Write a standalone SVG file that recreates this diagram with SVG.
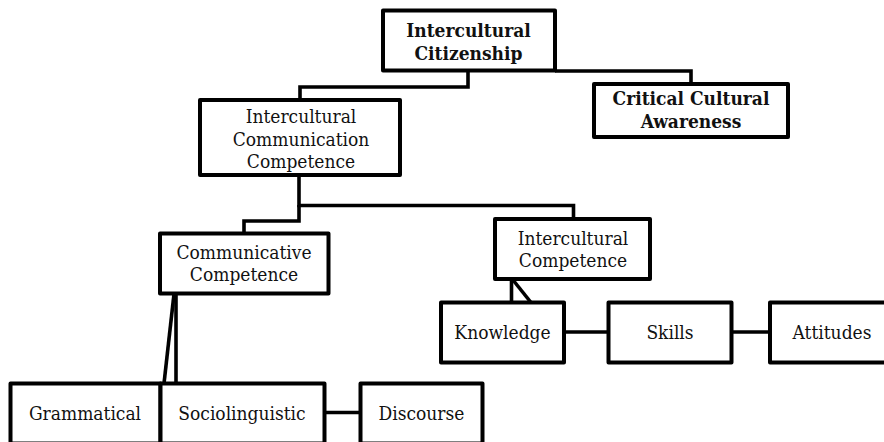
<svg xmlns="http://www.w3.org/2000/svg" width="884" height="442" viewBox="0 0 884 442">
<style>
.box{fill:#fff;stroke:#000;stroke-width:4;stroke-linejoin:round}
.con{fill:none;stroke:#000;stroke-width:3.6;stroke-linejoin:miter}
text{font-family:"DejaVu Serif Condensed","DejaVu Serif","Liberation Serif",serif;font-stretch:condensed;font-size:19px;fill:#111;text-anchor:middle}
.b{font-weight:bold}
</style>
<rect width="884" height="442" fill="#fff"/>
<g id="connectors">
<path class="con" d="M555,71 H691 V84"/>
<path class="con" d="M468,71 V87 H300 V100"/>
<path class="con" d="M299,175 V205.5 H573.5 V219"/>
<path class="con" d="M299,205 V221 H244 V233.5"/>
<path class="con" d="M511.5,279 V302.5"/>
<path class="con" d="M513,280 L531,302.5"/>
<path class="con" d="M564,332 H608.5"/>
<path class="con" d="M731.5,332 H770"/>
<path class="con" d="M176,294 V383.5"/>
<path class="con" d="M174,294 L164,383.5"/>
<path class="con" d="M324.5,412.5 H360.5"/>
</g>
<g id="intercultural-citizenship">
<rect class="box" x="383" y="10.5" width="172" height="60"/>
<text class="b" x="468.5" y="37">Intercultural</text>
<text class="b" x="468.5" y="60">Citizenship</text>
</g>
<g id="critical-cultural-awareness">
<rect class="box" x="594" y="84" width="194" height="53"/>
<text class="b" x="691" y="105">Critical Cultural</text>
<text class="b" x="691" y="127.5">Awareness</text>
</g>
<g id="icc">
<rect class="box" x="200" y="100" width="200" height="75"/>
<text x="301" y="123">Intercultural</text>
<text x="301" y="145.5">Communication</text>
<text x="301" y="167.5">Competence</text>
</g>
<g id="communicative-competence">
<rect class="box" x="160" y="233.5" width="168.5" height="60"/>
<text x="244" y="259">Communicative</text>
<text x="244" y="281">Competence</text>
</g>
<g id="intercultural-competence">
<rect class="box" x="495" y="219" width="155" height="60"/>
<text x="573" y="245">Intercultural</text>
<text x="573" y="267">Competence</text>
</g>
<g id="knowledge">
<rect class="box" x="441" y="302.5" width="123" height="60"/>
<text x="502.5" y="339">Knowledge</text>
</g>
<g id="skills">
<rect class="box" x="608.5" y="302.5" width="123" height="60"/>
<text x="670" y="339">Skills</text>
</g>
<g id="attitudes">
<rect class="box" x="770" y="302.5" width="124" height="60"/>
<text x="832" y="339">Attitudes</text>
</g>
<g id="grammatical">
<rect class="box" x="10.5" y="383.5" width="150" height="60"/>
<text x="85" y="420">Grammatical</text>
</g>
<g id="sociolinguistic">
<rect class="box" x="160.5" y="383.5" width="164" height="60"/>
<text x="242" y="420">Sociolinguistic</text>
</g>
<g id="discourse">
<rect class="box" x="360.5" y="383.5" width="122" height="60"/>
<text x="421.5" y="420">Discourse</text>
</g>
</svg>
